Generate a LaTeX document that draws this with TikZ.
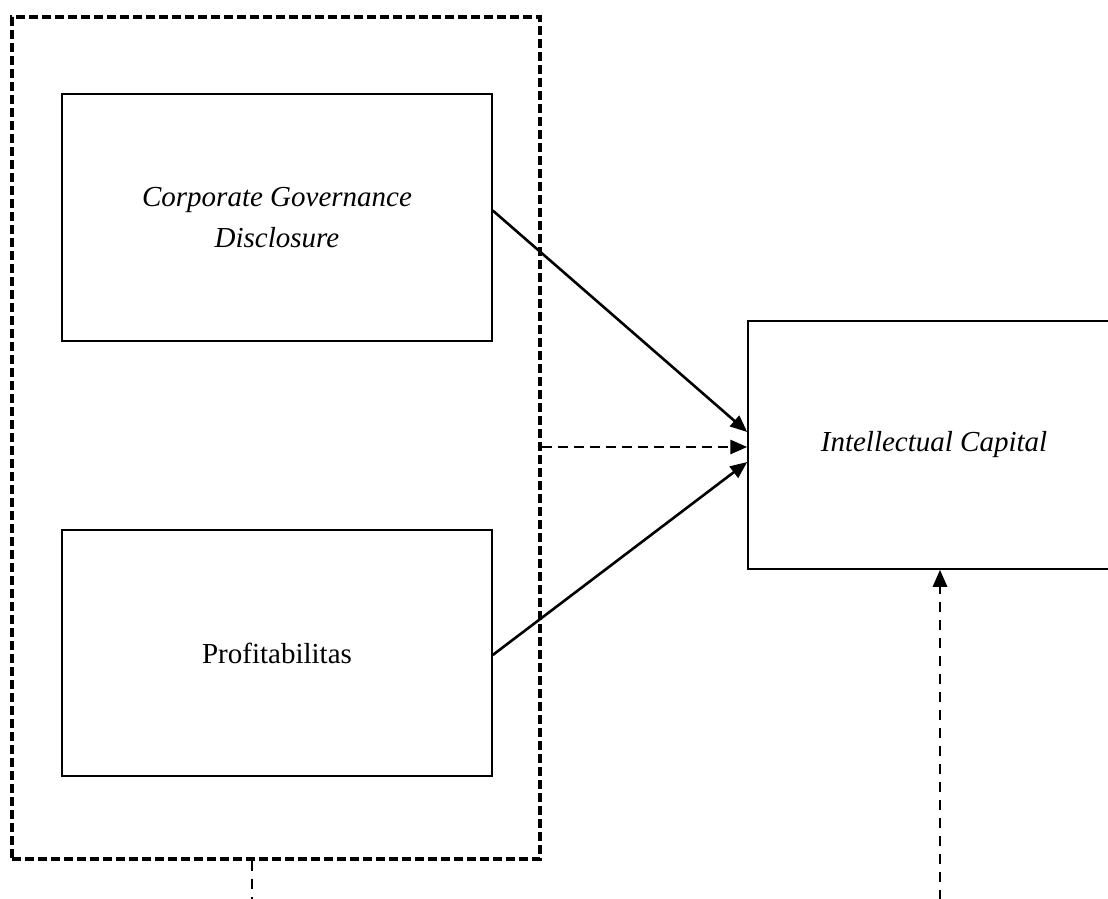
\documentclass[tikz,border=0pt]{standalone}
\usepackage{fontspec}
\setmainfont{Liberation Serif}
\usetikzlibrary{arrows.meta}
\tikzset{
  box/.style={draw, line width=1.5pt, inner sep=0pt, align=center,
    font=\fontsize{29}{41}\selectfont},
  outerbox/.style={draw, line width=3.6pt, dash pattern=on 9pt off 4pt, inner sep=0pt},
  link/.style={line width=2.6pt, -{Triangle[length=17pt,width=14pt]}},
  dlink/.style={line width=2.8pt, dash pattern=on 10pt off 6pt, -{Triangle[length=17pt,width=14pt]}},
  dline/.style={line width=2.8pt, dash pattern=on 10pt off 8pt}
}
\begin{document}
\begin{tikzpicture}[x=1pt,y=-1pt]
\clip (0,0) rectangle (1108,898);
\node[outerbox, minimum width=528pt, minimum height=842pt] (outer) at (276,438) {};
\node[box, minimum width=430pt, minimum height=247pt] (cgd) at (277,217.5)
  {\itshape Corporate Governance\\\itshape Disclosure};
\node[box, minimum width=430pt, minimum height=246pt] (prof) at (277,653) {Profitabilitas};
\node[box, minimum width=372pt, minimum height=248pt] (ic) at (934,445) {\itshape Intellectual Capital};
\draw[link] ([yshift=7pt]cgd.east) -- ([yshift=13pt]ic.west);
\draw[dlink] ([yshift=-9pt]outer.east) -- ([yshift=-2pt]ic.west);
\draw[link] ([yshift=-2pt]prof.east) -- ([yshift=-17pt]ic.west);
\coordinate (bottomend) at (252,905);
\draw[dline] ([xshift=-24pt]outer.south) -- (bottomend);
\coordinate (icsrc) at (940,900);
\draw[dlink, dash pattern=on 10pt off 8pt] (icsrc) -- ([xshift=6pt]ic.south);
\end{tikzpicture}
\end{document}
